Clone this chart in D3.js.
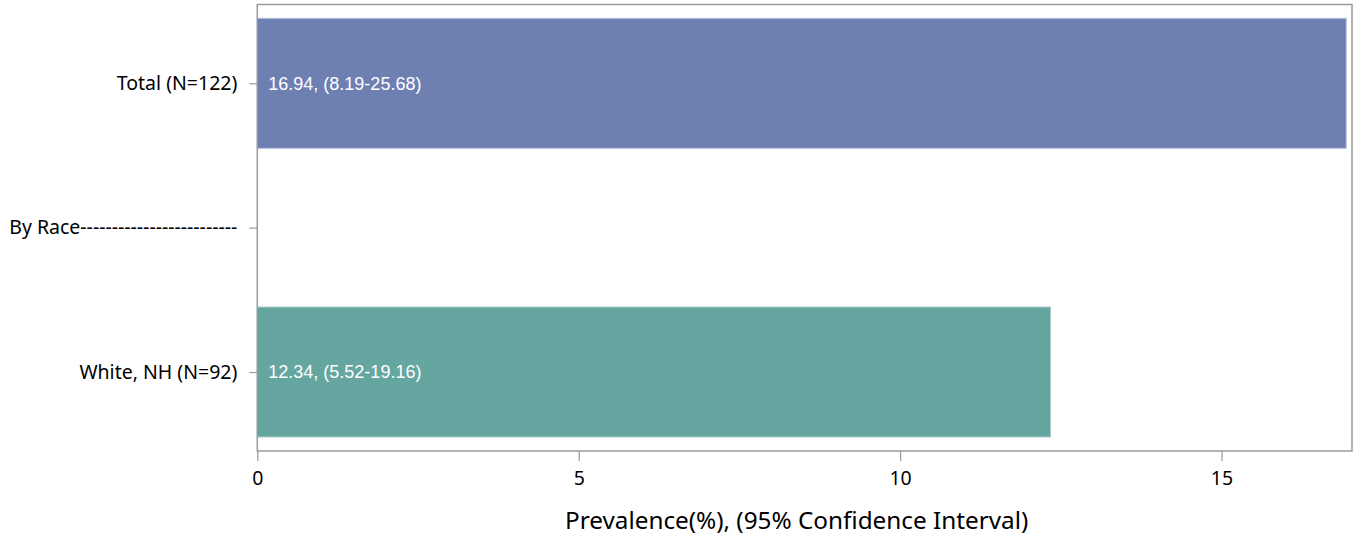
<!DOCTYPE html>
<html>
<head>
<meta charset="utf-8">
<script src="https://cdn.jsdelivr.net/npm/d3@7"></script>
<style>
  body { margin: 0; background: #fff; }
  svg { display: block; }
</style>
</head>
<body>
<svg id="chart" width="1358" height="535"></svg>
<script>
const categories = ["Total (N=122)", "By Race-------------------------", "White, NH (N=92)"];
const values = [16.94, null, 12.34];
const barLabels = ["16.94, (8.19-25.68)", null, "12.34, (5.52-19.16)"];
const barColors = ["#6e7fb2", null, "#66a6a0"];
const barStrokes = ["#b9c1dc", null, "#a9cfcb"];
const xTicks = [0, 5, 10, 15];
const xTitle = "Prevalence(%), (95% Confidence Interval)";

(function () {
const svg = d3.select("#chart");
const pLeft = 257.3, pRight = 1352, pTop = 4.5, pBottom = 451;
const axisFont = "'Noto Sans', sans-serif";

const x = d3.scaleLinear().domain([0, 17.03]).range([pLeft, pRight]);
const y = d3.scalePoint().domain(categories).range([83.3, 372]);
const barH = 130;

const rows = categories.map((c, i) => ({c, v: values[i], label: barLabels[i], color: barColors[i], stroke: barStrokes[i]}))
  .filter(d => d.v != null);

svg.append("g").selectAll("rect").data(rows).join("rect")
  .attr("x", x(0))
  .attr("y", d => y(d.c) - barH / 2)
  .attr("width", d => x(d.v) - x(0))
  .attr("height", barH)
  .attr("fill", d => d.color)
  .attr("stroke", d => d.stroke)
  .attr("stroke-width", 1);

svg.append("g").selectAll("text").data(rows).join("text")
  .attr("x", x(0) + 11)
  .attr("y", d => y(d.c))
  .attr("dy", "0.35em")
  .attr("fill", "#ffffff")
  .style("font-family", "'Liberation Sans', Arial, sans-serif")
  .style("font-size", "18px")
  .text(d => d.label);

svg.append("rect")
  .attr("x", pLeft).attr("y", pTop)
  .attr("width", pRight - pLeft).attr("height", pBottom - pTop)
  .attr("fill", "none").attr("stroke", "#9a9a9a").attr("stroke-width", 1.5);

const xAxis = svg.append("g").attr("transform", `translate(0,${pBottom})`)
  .call(d3.axisBottom(x).tickValues(xTicks).tickFormat(d3.format("d")).tickSize(10).tickPadding(10));
xAxis.select(".domain").remove();
xAxis.selectAll("line").attr("stroke", "#9a9a9a").attr("stroke-width", 1.2);
xAxis.selectAll("text").attr("fill", "#000")
  .style("font-family", axisFont).style("font-size", "19.5px");

const yAxis = svg.append("g").attr("transform", `translate(${pLeft},0)`)
  .call(d3.axisLeft(y).tickSize(8).tickPadding(12));
yAxis.select(".domain").remove();
yAxis.selectAll("line").attr("stroke", "#9a9a9a").attr("stroke-width", 1.2);
yAxis.selectAll("text").attr("fill", "#000")
  .style("font-family", axisFont).style("font-size", "19.5px");

svg.append("text")
  .attr("x", (pLeft + pRight) / 2 - 8)
  .attr("y", 520)
  .attr("dy", "0.35em")
  .attr("text-anchor", "middle")
  .attr("fill", "#000")
  .style("font-family", axisFont)
  .style("font-size", "24.3px")
  .text(xTitle);
})();
</script>
</body>
</html>
